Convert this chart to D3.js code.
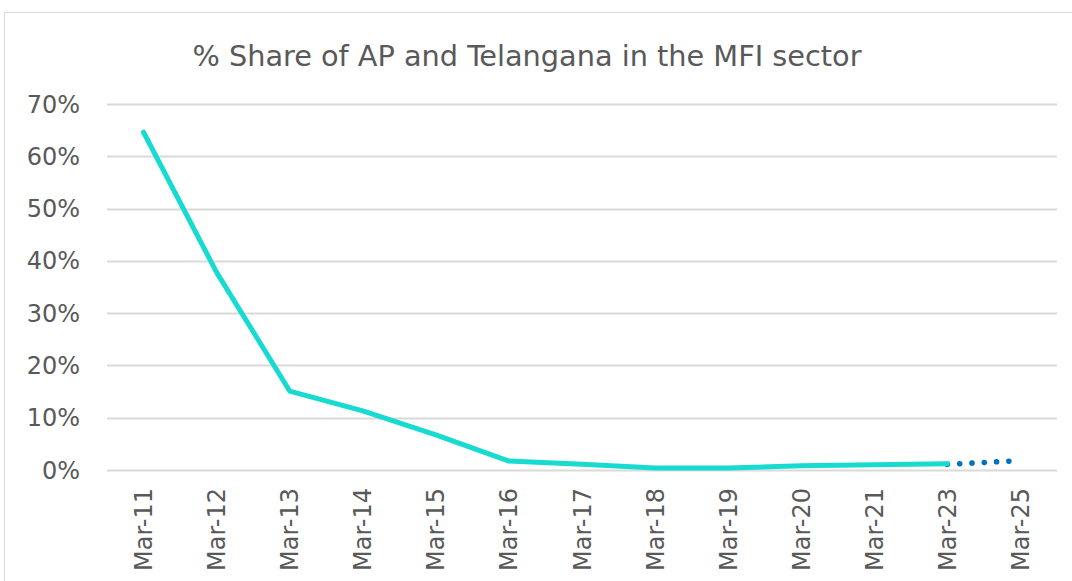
<!DOCTYPE html>
<html>
<head>
<meta charset="utf-8">
<script src="https://cdn.jsdelivr.net/npm/d3@7"></script>
<style>
  body { margin: 0; background: #fff; }
  svg { display: block; }
</style>
</head>
<body>
<div id="chart"></div>
<script>
// data
var categories = ["Mar-11","Mar-12","Mar-13","Mar-14","Mar-15","Mar-16","Mar-17",
                  "Mar-18","Mar-19","Mar-20","Mar-21","Mar-23","Mar-25"];
var actualShare = [0.646,0.378,0.151,0.113,0.067,0.017,0.011,0.004,0.004,0.008,0.010,0.012];
var projectedCats = ["Mar-23","Mar-25"];
var projectedShare = [0.011,0.018];
var yTicks = [0,0.1,0.2,0.3,0.4,0.5,0.6,0.7];
var title = "% Share of AP and Telangana in the MFI sector";

var W = 1072, H = 581;
var svg = d3.select("#chart").append("svg")
    .attr("width", W)
    .attr("height", H);

// chart area frame (only left and top edges visible in the crop)
svg.append("rect")
    .attr("x", 4.5).attr("y", 12.5)
    .attr("width", W + 20).attr("height", H + 20)
    .attr("fill", "#fff")
    .attr("stroke", "#d9d9d9")
    .attr("stroke-width", 1);

var x = d3.scaleBand()
    .domain(categories)
    .range([107, 1057]);

var y = d3.scaleLinear()
    .domain([0, 0.7])
    .range([470, 104]);

var cx = function(c){ return x(c) + x.bandwidth() / 2; };

// gridlines
svg.append("g")
    .selectAll("line")
    .data(yTicks)
    .enter()
    .append("line")
    .attr("x1", 107).attr("x2", 1057)
    .attr("y1", function(d){ return Math.round(y(d)) + 0.5; })
    .attr("y2", function(d){ return Math.round(y(d)) + 0.5; })
    .attr("stroke", "#d9d9d9")
    .attr("stroke-width", 2);

// y labels
svg.append("g")
    .selectAll("text")
    .data(yTicks)
    .enter()
    .append("text")
    .attr("x", 80)
    .attr("y", function(d){ return y(d) + 8.5; })
    .attr("text-anchor", "end")
    .attr("font-family", "DejaVu Sans, Verdana, sans-serif")
    .attr("font-size", 24)
    .attr("fill", "#595959")
    .text(d3.format(".0%"));

// x labels rotated
svg.append("g")
    .selectAll("text")
    .data(categories)
    .enter()
    .append("text")
    .attr("transform", function(d){
        return "translate(" + (cx(d) + 8.5) + ",488) rotate(-90)";
    })
    .attr("text-anchor", "end")
    .attr("font-family", "DejaVu Sans, Verdana, sans-serif")
    .attr("font-size", 24)
    .attr("fill", "#595959")
    .text(function(d){ return d; });

var line = d3.line()
    .x(function(d){ return cx(d.c); })
    .y(function(d){ return y(d.v); });

// projected dotted segment
svg.append("path")
    .datum(projectedCats.map(function(c, i){ return {c: c, v: projectedShare[i]}; }))
    .attr("d", line)
    .attr("fill", "none")
    .attr("stroke", "#0070c0")
    .attr("stroke-width", 5.5)
    .attr("stroke-linecap", "round")
    .attr("stroke-dasharray", "0.1,12.2");

// actual line
svg.append("path")
    .datum(actualShare.map(function(v, i){ return {c: categories[i], v: v}; }))
    .attr("d", line)
    .attr("fill", "none")
    .attr("stroke", "#17dbd0")
    .attr("stroke-width", 5)
    .attr("stroke-linecap", "round")
    .attr("stroke-linejoin", "round");

// title
svg.append("text")
    .attr("x", 527)
    .attr("y", 66)
    .attr("text-anchor", "middle")
    .attr("font-family", "DejaVu Sans Condensed, DejaVu Sans, sans-serif")
    .attr("font-size", 29)
    .attr("fill", "#595959")
    .attr("textLength", 669)
    .attr("lengthAdjust", "spacingAndGlyphs")
    .text(title);
</script>
</body>
</html>
